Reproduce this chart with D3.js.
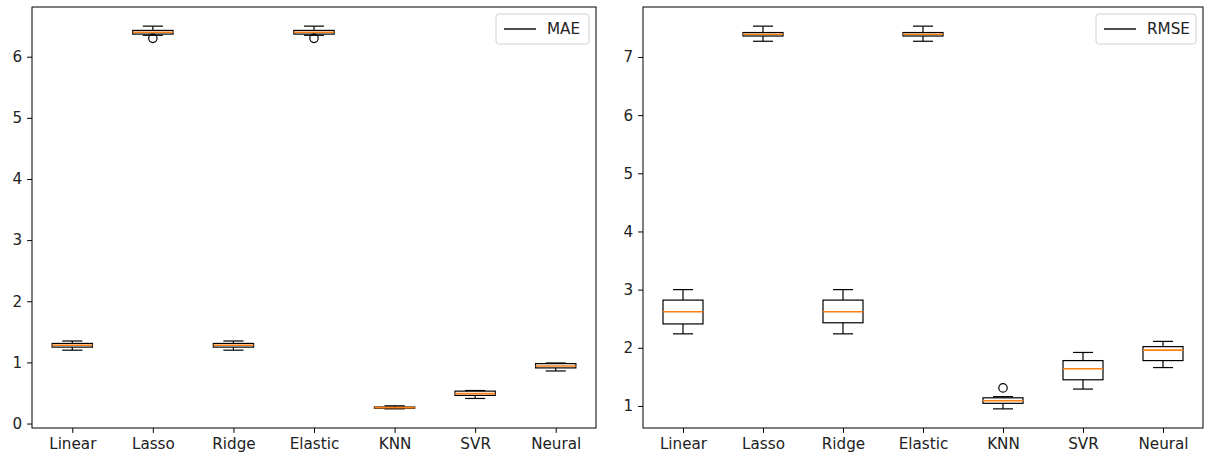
<!DOCTYPE html>
<html>
<head>
<meta charset="utf-8">
<script src="https://cdn.jsdelivr.net/npm/d3@7"></script>
<style>
html,body{margin:0;padding:0;background:#fff;}
svg{display:block;font-family:"DejaVu Sans",sans-serif;}
</style>
</head>
<body>
<svg id="chart" width="1207" height="457"></svg>
<script>
const categories = ["Linear","Lasso","Ridge","Elastic","KNN","SVR","Neural"];

// MAE panel (box statistics per category)
const maeWhiskerLow  = [1.20, 6.35, 1.20, 6.35, 0.24, 0.41, 0.86];
const maeQ1          = [1.25, 6.37, 1.25, 6.37, 0.25, 0.46, 0.91];
const maeMedian      = [1.28, 6.40, 1.28, 6.40, 0.26, 0.49, 0.94];
const maeQ3          = [1.31, 6.43, 1.31, 6.43, 0.27, 0.53, 0.98];
const maeWhiskerHigh = [1.35, 6.50, 1.35, 6.50, 0.29, 0.54, 0.99];
const maeOutliers    = [["Lasso", 6.30], ["Elastic", 6.30]];
const maeTicks       = [0, 1, 2, 3, 4, 5, 6];

// RMSE panel
const rmseWhiskerLow  = [2.24, 7.27, 2.24, 7.27, 0.95, 1.29, 1.66];
const rmseQ1          = [2.41, 7.36, 2.43, 7.36, 1.045, 1.45, 1.78];
const rmseMedian      = [2.62, 7.39, 2.62, 7.39, 1.09, 1.64, 1.96];
const rmseQ3          = [2.82, 7.42, 2.82, 7.42, 1.14, 1.78, 2.02];
const rmseWhiskerHigh = [3.00, 7.53, 3.00, 7.53, 1.16, 1.92, 2.11];
const rmseOutliers    = [["KNN", 1.31]];
const rmseTicks       = [1, 2, 3, 4, 5, 6, 7];

const svg = d3.select("#chart");
const FONT = 15.2;

function panel(cfg) {
  const {x0, x1, y0, y1, lo, q1, med, q3, hi, outliers, ticks, label, legendW} = cfg;
  const g = svg.append("g");
  const all = lo.concat(hi, outliers.map(d => d[1]));
  const mn = d3.min(all), mx = d3.max(all), span = mx - mn;
  const y = d3.scaleLinear().domain([mn - 0.05 * span, mx + 0.05 * span]).range([y1, y0]);
  const x = d3.scalePoint().domain(categories).range([x0, x1]).padding(0.5);
  const step = x.step();
  const bw = step * 0.5, cw = step * 0.25;

  // boxes
  const rows = categories.map((c, i) => ({c, lo: lo[i], q1: q1[i], med: med[i], q3: q3[i], hi: hi[i]}));
  const bg = g.append("g");
  rows.forEach(r => {
    const cx = x(r.c);
    const line = (xa, ya, xb, yb, col) => bg.append("line")
      .attr("x1", xa).attr("y1", ya).attr("x2", xb).attr("y2", yb)
      .attr("stroke", col || "#000").attr("stroke-width", 1.2);
    bg.append("rect").attr("x", cx - bw / 2).attr("y", y(r.q3))
      .attr("width", bw).attr("height", Math.max(0.5, y(r.q1) - y(r.q3)))
      .attr("fill", "none").attr("stroke", "#000").attr("stroke-width", 1.2);
    line(cx, y(r.q1), cx, y(r.lo));
    line(cx, y(r.q3), cx, y(r.hi));
    line(cx - cw / 2, y(r.lo), cx + cw / 2, y(r.lo));
    line(cx - cw / 2, y(r.hi), cx + cw / 2, y(r.hi));
    bg.append("line").attr("x1", cx - bw / 2).attr("x2", cx + bw / 2)
      .attr("y1", y(r.med)).attr("y2", y(r.med))
      .attr("stroke", "#ff7f0e").attr("stroke-width", 1.6);
  });
  bg.selectAll("circle.fl").data(outliers).enter().append("circle")
    .attr("cx", d => x(d[0])).attr("cy", d => y(d[1])).attr("r", 4.2)
    .attr("fill", "none").attr("stroke", "#000").attr("stroke-width", 1.2);

  // axes
  const ya = d3.axisLeft(y).tickValues(ticks).tickFormat(d3.format("d")).tickSize(4.9).tickPadding(5);
  const xa = d3.axisBottom(x).tickSize(4.9).tickPadding(5);
  const gy = g.append("g").attr("transform", `translate(${x0},0)`).call(ya);
  const gx = g.append("g").attr("transform", `translate(0,${y1})`).call(xa);
  [gy, gx].forEach(a => {
    a.select(".domain").remove();
    a.selectAll("line").attr("stroke", "#000").attr("stroke-width", 1);
    a.selectAll("text").attr("fill", "#222").attr("font-size", FONT).attr("font-family", "DejaVu Sans");
  });
  g.append("rect").attr("x", x0).attr("y", y0).attr("width", x1 - x0).attr("height", y1 - y0)
    .attr("fill", "none").attr("stroke", "#000").attr("stroke-width", 1);

  // legend
  const lx1 = x1 - 7, lx0 = lx1 - legendW, ly0 = y0 + 7, lh = 30;
  g.append("rect").attr("x", lx0).attr("y", ly0).attr("width", legendW).attr("height", lh)
    .attr("rx", 3).attr("fill", "#fff").attr("fill-opacity", 0.8)
    .attr("stroke", "#d0d0d0").attr("stroke-width", 1);
  g.append("line").attr("x1", lx0 + 8).attr("x2", lx0 + 40).attr("y1", ly0 + lh / 2).attr("y2", ly0 + lh / 2)
    .attr("stroke", "#000").attr("stroke-width", 1.4);
  g.append("text").attr("x", lx0 + 51).attr("y", ly0 + lh / 2).attr("dy", "0.35em")
    .attr("font-size", FONT).attr("fill", "#222").text(label);
}

panel({x0: 32, x1: 596, y0: 7, y1: 428, lo: maeWhiskerLow, q1: maeQ1, med: maeMedian, q3: maeQ3,
  hi: maeWhiskerHigh, outliers: maeOutliers, ticks: maeTicks, label: "MAE", legendW: 93});
panel({x0: 643, x1: 1203, y0: 7, y1: 428, lo: rmseWhiskerLow, q1: rmseQ1, med: rmseMedian, q3: rmseQ3,
  hi: rmseWhiskerHigh, outliers: rmseOutliers, ticks: rmseTicks, label: "RMSE", legendW: 100});
</script>
</body>
</html>
